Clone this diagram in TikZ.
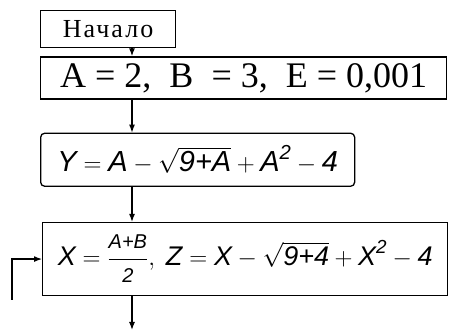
\documentclass[tikz,border=0pt]{standalone}
\usepackage{amsmath}
\usepackage{fontspec}
\setmainfont{Liberation Serif}
\newfontfamily\handfont{Liberation Sans}
\usetikzlibrary{arrows.meta,positioning}
\newcommand{\hv}[1]{\text{\handfont\itshape #1}}
\newcommand{\hs}[1]{\text{\handfont\itshape\fontsize{20}{22}\selectfont #1}}
\tikzset{
  box/.style={draw, line width=1.3pt, inner sep=0pt, anchor=north west},
  flow/.style={-{Latex[length=8pt,width=6pt]}, line width=1.2pt},
}

\begin{document}
\begin{tikzpicture}[x=1pt, y=-1pt]
  \useasboundingbox (0,0) rectangle (453,331);
  \coordinate (axis) at (132,0);
  \node[box, minimum width=135pt, minimum height=37pt,
        font=\fontsize{26}{28}\selectfont\addfontfeature{LetterSpace=8}] (start) at (40,10) {Начало};
  \node[box, minimum width=406pt, minimum height=42pt, font=\fontsize{36}{38}\selectfont,
        below=8pt of start.south west, anchor=north west] (init)
        {A = 2,\ \ B \ = 3,\ \ E = 0,001};
  \node[box, rounded corners=4pt, minimum width=314pt, minimum height=53pt, font=\fontsize{29}{31}\selectfont,
        below=33pt of init.south west, anchor=north west] (ycalc)
        {$\hv{Y} = \hv{A} - \sqrt{\hv{9+A}} + \hv{A}^{\hv{2}} - \hv{4}$};
  \node[box, minimum width=405pt, minimum height=73pt, font=\fontsize{27}{29}\selectfont,
        below=35pt of ycalc.south west, anchor=north west, xshift=2pt] (xcalc)
        {$\hv{X} = \dfrac{\hs{A+B}}{\hs{2}},\ \hv{Z} = \hv{X} - \sqrt{\hv{9+4}} + \hv{X}^{\hv{2}} - \hv{4}$};
  \coordinate (loop) at (12,300);
  \coordinate (exit) at (132,330);
  \draw[flow] (start.south -| axis) -- (init.north -| axis);
  \draw[flow] (init.south -| axis) -- (ycalc.north -| axis);
  \draw[flow] (ycalc.south -| axis) -- (xcalc.north -| axis);
  \draw[flow] (xcalc.south -| axis) -- (exit);
  \draw[flow] (loop) |- (xcalc.west);
\end{tikzpicture}
\end{document}
